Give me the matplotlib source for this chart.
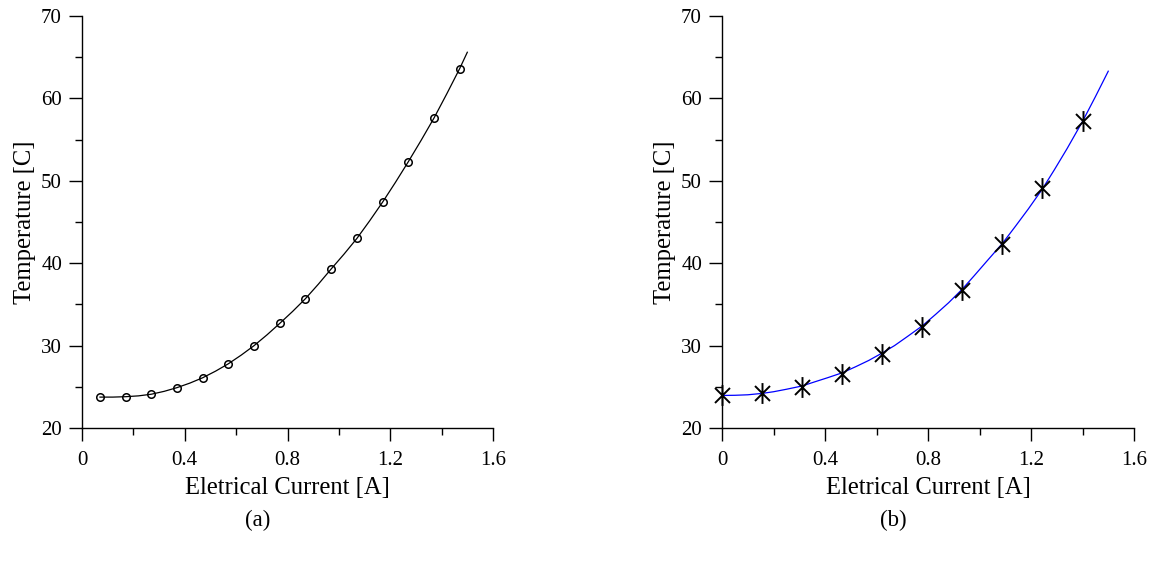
import matplotlib
matplotlib.use("Agg")
import matplotlib.pyplot as plt
from matplotlib.ticker import MultipleLocator
from matplotlib.path import Path

plt.rcParams['font.family'] = ['Liberation Serif', 'DejaVu Serif']

# Panel (a): measured points and fitted curve
a_current = [0.07, 0.17, 0.27, 0.37, 0.47, 0.57, 0.67, 0.77, 0.87, 0.97, 1.07, 1.17, 1.27, 1.37, 1.47]
a_temp = [23.8, 23.8, 24.1, 24.9, 26.1, 27.8, 30.0, 32.7, 35.7, 39.3, 43.0, 47.4, 52.3, 57.6, 63.6]
a_curve_x = [0.07, 0.12, 0.17, 0.22, 0.27, 0.32, 0.37, 0.42, 0.47, 0.52, 0.57, 0.62, 0.67, 0.72, 0.77,
             0.82, 0.87, 0.92, 0.97, 1.02, 1.07, 1.12, 1.17, 1.22, 1.27, 1.32, 1.37, 1.42, 1.47, 1.50]
a_curve_y = [23.75, 23.75, 23.8, 23.9, 24.1, 24.45, 24.9, 25.45, 26.1, 26.9, 27.8, 28.85, 30.0, 31.3, 32.7,
             34.15, 35.7, 37.45, 39.3, 41.1, 43.0, 45.15, 47.4, 49.8, 52.3, 54.9, 57.6, 60.55, 63.6, 65.6]

# Panel (b): measured points and fitted curve
b_current = [0.0, 0.156, 0.311, 0.467, 0.622, 0.778, 0.933, 1.089, 1.244, 1.4]
b_temp = [24.0, 24.2, 25.0, 26.6, 29.0, 32.3, 36.8, 42.3, 49.1, 57.2]
b_curve_x = [0.0, 0.05, 0.1, 0.156, 0.2, 0.25, 0.311, 0.36, 0.41, 0.467, 0.52, 0.57, 0.622, 0.67, 0.72,
             0.778, 0.83, 0.88, 0.933, 0.98, 1.03, 1.089, 1.14, 1.19, 1.244, 1.29, 1.34, 1.4, 1.45, 1.5]
b_curve_y = [23.95, 23.97, 24.03, 24.2, 24.4, 24.7, 25.1, 25.6, 26.1, 26.7, 27.45, 28.2, 29.1, 30.0, 31.1,
             32.4, 33.8, 35.2, 36.85, 38.5, 40.3, 42.4, 44.5, 46.6, 49.0, 51.3, 53.9, 57.2, 60.2, 63.3]

x_ticks = [0, 0.4, 0.8, 1.2, 1.6]
x_tick_labels = ['0', '0.4', '0.8', '1.2', '1.6']
y_ticks = [20, 30, 40, 50, 60, 70]
x_label = 'Eletrical Current [A]'
y_label = 'Temperature [C]'
panel_labels = ['(a)', '(b)']

# asterisk marker: vertical stroke plus two 45-degree diagonals
d = 0.72
star = Path([(0, -1), (0, 1), (-d, -d), (d, d), (-d, d), (d, -d)],
            [Path.MOVETO, Path.LINETO, Path.MOVETO, Path.LINETO, Path.MOVETO, Path.LINETO])

fig = plt.figure(figsize=(11.5, 5.61), dpi=100)
ax1 = fig.add_axes([82/1150, 1 - 428/561, 411/1150, 412/561])
ax2 = fig.add_axes([722/1150, 1 - 428/561, 412/1150, 412/561])

ax1.plot(a_curve_x, a_curve_y, color='black', lw=0.9, zorder=2)
ax1.plot(a_current, a_temp, linestyle='none', marker='o', markersize=5.4,
         markerfacecolor='none', markeredgecolor='black', markeredgewidth=1.1, zorder=3, clip_on=False)

ax2.plot(b_curve_x, b_curve_y, color='#0000ff', lw=0.9, zorder=2)
ax2.plot(b_current, b_temp, linestyle='none', marker=star, markersize=15,
         markeredgecolor='black', markeredgewidth=1.4, zorder=3, clip_on=False)

for ax, lab in zip([ax1, ax2], panel_labels):
    ax.set_xlim(0, 1.6)
    ax.set_ylim(20, 70)
    ax.set_xticks(x_ticks)
    ax.set_xticklabels(x_tick_labels)
    ax.set_yticks(y_ticks)
    ax.xaxis.set_minor_locator(MultipleLocator(0.2))
    ax.yaxis.set_minor_locator(MultipleLocator(5))
    for s in ['top', 'right']:
        ax.spines[s].set_visible(False)
    for s in ['left', 'bottom']:
        ax.spines[s].set_linewidth(1.0)
    ax.tick_params(which='major', direction='out', length=9.4, width=1.0, labelsize=15)
    ax.tick_params(axis='y', which='major', pad=5)
    ax.tick_params(axis='x', which='major', pad=7)
    ax.tick_params(which='minor', direction='out', length=5.2, width=1.0)
    ax.set_xlabel(x_label, fontsize=17.7, labelpad=5.5)
    ax.set_ylabel(y_label, fontsize=17.7, labelpad=4)
    ax.patch.set_alpha(0)

fig.text(258/1150, 1 - 520/561, panel_labels[0], ha='center', va='center', fontsize=16.5)
fig.text(893/1150, 1 - 520/561, panel_labels[1], ha='center', va='center', fontsize=16.5)

fig.savefig('out.png', dpi=100)
